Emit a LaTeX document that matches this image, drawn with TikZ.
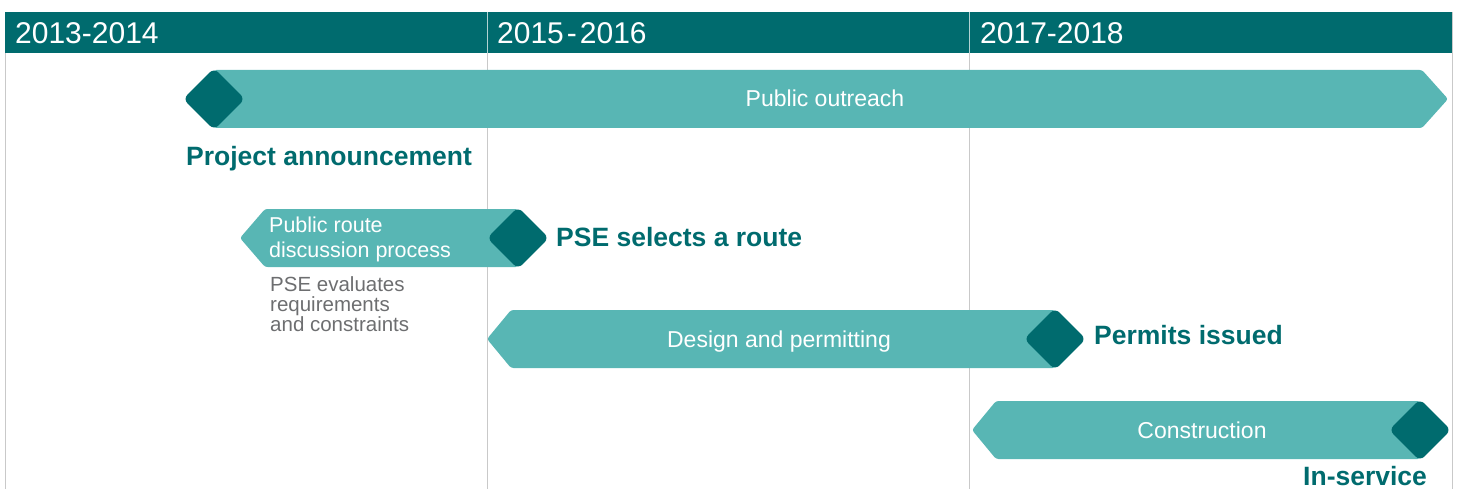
\documentclass[tikz,border=0pt]{standalone}
\usepackage{fontspec}
\setmainfont{Liberation Sans}
\usetikzlibrary{shapes.geometric}
\definecolor{hdr}{HTML}{006B6E}
\definecolor{barc}{HTML}{58B6B4}
\definecolor{gridc}{HTML}{C9C9C9}
\definecolor{gtext}{HTML}{6D6E70}
\begin{document}
\begin{tikzpicture}[x=1pt,y=-1pt,
  milestone/.style={diamond, aspect=1, fill=hdr, minimum width=62pt, minimum height=62pt, inner sep=0pt, rounded corners=6pt},
  barshape/.style={fill=barc, rounded corners=2.5pt},
  gridline/.style={draw=gridc, line width=1pt},
  hdrtxt/.style={text=white, font=\fontsize{30}{36}\selectfont, anchor=base west, inner sep=0pt},
  lbl/.style={text=hdr, font=\fontsize{26.5}{30}\selectfont\bfseries, anchor=base west, inner sep=0pt},
  bartxt/.style={text=white, font=\fontsize{23}{26}\selectfont, anchor=base, inner sep=0pt},
  routetxt/.style={text=white, font=\fontsize{21.5}{24}\selectfont, anchor=base west, inner sep=0pt},
  graytxt/.style={text=gtext, font=\fontsize{20.5}{22}\selectfont, anchor=base west, inner sep=0pt}]
\useasboundingbox (0,0) rectangle (1458,489);
% grid
\coordinate (g0t) at (5,12);   \coordinate (g0b) at (5,489);
\coordinate (g1t) at (487,12); \coordinate (g1b) at (487,489);
\coordinate (g2t) at (969,12); \coordinate (g2b) at (969,489);
\coordinate (g3t) at (1452,12);\coordinate (g3b) at (1452,489);
\draw[gridline] (g0t) -- (g0b);
\draw[gridline] (g1t) -- (g1b);
\draw[gridline] (g2t) -- (g2b);
\draw[gridline] (g3t) -- (g3b);
% header
\fill[hdr] (5,12) rectangle (1452,53);
\draw[draw=white!70!hdr, line width=1pt] (g1t) -- (487,53);
\draw[draw=white!70!hdr, line width=1pt] (g2t) -- (969,53);
\node[hdrtxt] (h1) at (15,43.5) {2013-2014};
\node[hdrtxt] (h2) at (497,43.5) {2015\hspace{3pt}-\hspace{3pt}2016};
\node[hdrtxt] (h3) at (980,43.5) {2017-2018};
% bars
\path[barshape] (214,70) -- (1422,70) -- (1448,99) -- (1422,128) -- (214,128) -- cycle;
\path[barshape] (518,209) -- (265,209) -- (240,238) -- (265,267) -- (518,267) -- cycle;
\path[barshape] (1055,310) -- (511,310) -- (487,339) -- (511,368) -- (1055,368) -- cycle;
\path[barshape] (1420,401) -- (996,401) -- (972,430) -- (996,459) -- (1420,459) -- cycle;
% milestones
\node[milestone] (m1) at (214,99) {};
\node[milestone] (m2) at (518,238) {};
\node[milestone] (m3) at (1055,339) {};
\node[milestone] (m4) at (1420,430) {};
% bar labels
\node[bartxt] (b1) at (825,107) {Public outreach};
\node[bartxt] (b3) at (779,347) {Design and permitting};
\node[bartxt] (b4) at (1202,438) {Construction};
\node[routetxt] (r1) at (269,233) {Public route};
\node[routetxt] (r2) at (269,257) {discussion process};
\node[graytxt] (e1) at (270,291) {PSE evaluates};
\node[graytxt] (e2) at (270,311) {requirements};
\node[graytxt] (e3) at (270,331) {and constraints};
% milestone labels
\node[lbl] (l1) at (186,166) {Project announcement};
\node[lbl] (l2) at (556,246) {PSE selects a route};
\node[lbl] (l3) at (1094,344) {Permits issued};
\node[lbl] (l4) at (1303,485) {In-service};
\end{tikzpicture}
\end{document}
